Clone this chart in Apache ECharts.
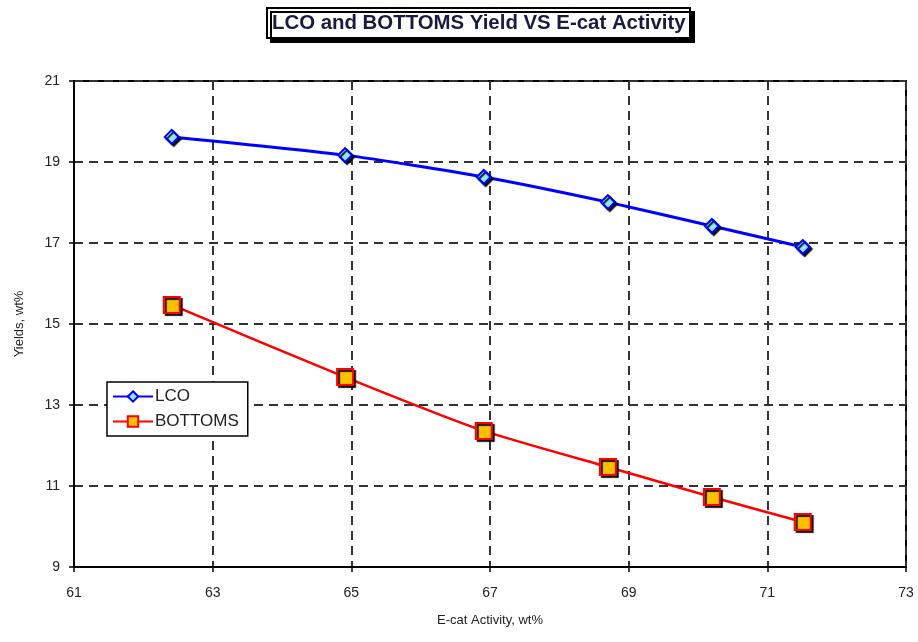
<!DOCTYPE html>
<html><head><meta charset="utf-8">
<script src="https://cdn.jsdelivr.net/npm/echarts@6/dist/echarts.min.js"></script>
<style>html,body{margin:0;padding:0;background:#fff}#c{width:918px;height:642px}</style>
</head><body><div id="c"></div>
<script>
const activity = [62.41, 64.91, 66.91, 68.70, 70.20, 71.51];
const lcoYield = [19.62, 19.17, 18.63, 18.01, 17.42, 16.90];
const bottomsYield = [15.47, 13.69, 12.36, 11.47, 10.73, 10.11];
const seriesNames = ['LCO', 'BOTTOMS'];
const titleText = 'LCO and BOTTOMS Yield VS E-cat Activity';
const xName = 'E-cat Activity, wt%';
const yName = 'Yields, wt%';

const chart = echarts.init(document.getElementById('c'));
const font = 'Liberation Sans, Arial, sans-serif';
const grid = {type:[9,6], color:'#333', width:2};
chart.setOption({
  animation:false,
  backgroundColor:'#fff',
  title:{text:titleText, left:267, top:8,
    backgroundColor:'#fff', borderColor:'#000', borderWidth:2,
    padding:[5,5,5,5],
    shadowColor:'#000', shadowOffsetX:4, shadowOffsetY:4, shadowBlur:0,
    textStyle:{fontFamily:font, fontSize:20.4, fontWeight:'bold', color:'#1a1a40'}},
  grid:{left:74, right:12, top:81, bottom:75, show:true, borderColor:'#000', borderWidth:2},
  legend:{orient:'vertical', left:107, top:382, itemWidth:40, itemHeight:13, itemGap:8,
    backgroundColor:'#fff', borderColor:'#000', borderWidth:1.5, padding:[6,9,6,5],
    textStyle:{fontFamily:font, fontSize:17, color:'#222', padding:[0,0,0,-3]},
    data:seriesNames},
  xAxis:{type:'value', min:61, max:73, interval:2, name:xName, nameLocation:'middle', nameGap:47,
    nameTextStyle:{fontFamily:font, fontSize:13, color:'#222'},
    axisLine:{lineStyle:{color:'#000', width:2}},
    axisTick:{show:true, length:5, lineStyle:{color:'#000', width:1.5}},
    axisLabel:{fontFamily:font, fontSize:14, color:'#222', margin:19},
    splitLine:{show:true, lineStyle:grid}},
  yAxis:{type:'value', min:9, max:21, interval:2, name:yName, nameLocation:'middle', nameGap:48,
    nameTextStyle:{fontFamily:font, fontSize:13, color:'#222'},
    axisLine:{show:true, lineStyle:{color:'#000', width:2}},
    axisTick:{show:true, length:5, lineStyle:{color:'#000', width:1.5}},
    axisLabel:{fontFamily:font, fontSize:14, color:'#222', margin:14},
    splitLine:{show:true, lineStyle:grid}},
  series:[
    {name:seriesNames[0], type:'line', data:activity.map((x,i)=>[x,lcoYield[i]]),
      symbol:'diamond', symbolSize:14, smooth:0.2,
      lineStyle:{color:'#0000ff', width:3},
      itemStyle:{color:'#8fe6ff', borderColor:'#0000ff', borderWidth:2,
        shadowColor:'rgba(0,0,0,0.9)', shadowOffsetX:2, shadowOffsetY:2, shadowBlur:1}},
    {name:seriesNames[1], type:'line', data:activity.map((x,i)=>[x,bottomsYield[i]]),
      symbol:'rect', symbolSize:16, smooth:0.2,
      lineStyle:{color:'#ff0000', width:2.5},
      itemStyle:{color:'#ffc000', borderColor:'#ff0000', borderWidth:2,
        shadowColor:'rgba(0,0,0,0.9)', shadowOffsetX:2, shadowOffsetY:2, shadowBlur:1}}
  ]
});
</script></body></html>
